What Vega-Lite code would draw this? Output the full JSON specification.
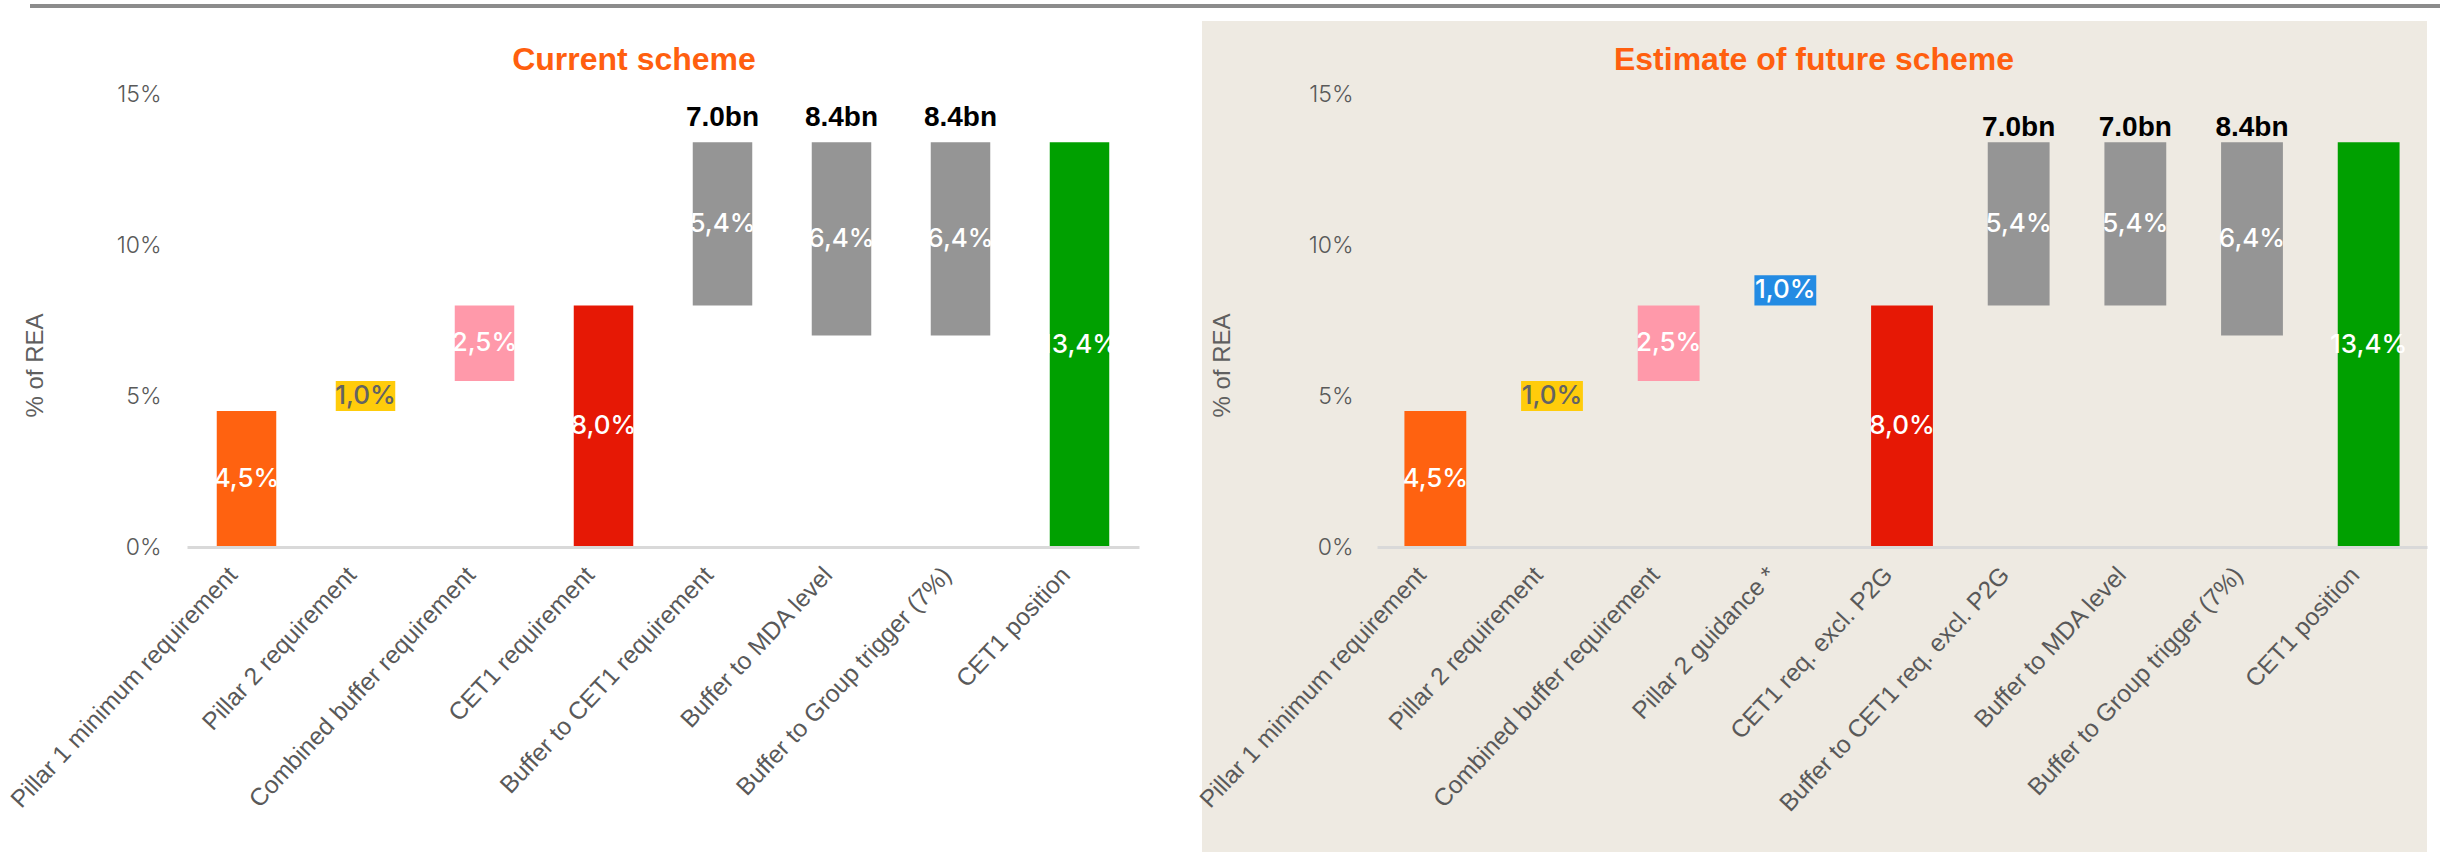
{
  "$schema": "https://vega.github.io/schema/vega-lite/v6.json",
  "padding": 0,
  "autosize": {"type": "pad"},
  "background": "white",
  "spacing": 238,
  "bounds": "flush",
  "config": {
    "locale": {"number": {"decimal": ",", "thousands": ".", "grouping": [3], "currency": ["", " kr"]}},
    "view": {"stroke": null},
    "font": "Liberation Sans",
    "axis": {"grid": false, "ticks": false, "tickSize": 0},
    "axisX": {"labelAngle": -47, "labelFontSize": 24.5, "labelColor": "#595959", "labelFont": "Liberation Sans", "labelLimit": 1000, "labelPadding": 24, "labelOffset": -13, "domainColor": "#D9D9D9", "domainWidth": 3},
    "axisY": {"domain": false, "labelFontSize": 23, "labelColor": "#595959", "labelFont": "Inter", "labelFontWeight": 300, "titleFont": "Liberation Sans", "titleFontSize": 24, "titleFontWeight": "normal", "titleColor": "#5f5f5f", "titleAngle": 270, "titleAlign": "center", "titleBaseline": "middle", "titleY": 271}
  },
  "datasets": {
    "cur": [
      {"cat": "Pillar 1 minimum requirement", "type": "P1", "start": 0, "end": 0.045, "value": 0.045, "bn": null},
      {"cat": "Pillar 2 requirement", "type": "P2", "start": 0.045, "end": 0.055, "value": 0.01, "bn": null},
      {"cat": "Combined buffer requirement", "type": "CBR", "start": 0.055, "end": 0.08, "value": 0.025, "bn": null},
      {"cat": "CET1 requirement", "type": "REQ", "start": 0, "end": 0.08, "value": 0.08, "bn": null},
      {"cat": "Buffer to CET1 requirement", "type": "BUF", "start": 0.08, "end": 0.134, "value": 0.054, "bn": "7.0bn"},
      {"cat": "Buffer to MDA level", "type": "BUF", "start": 0.07, "end": 0.134, "value": 0.064, "bn": "8.4bn"},
      {"cat": "Buffer to Group trigger (7%)", "type": "BUF", "start": 0.07, "end": 0.134, "value": 0.064, "bn": "8.4bn"},
      {"cat": "CET1 position", "type": "POS", "start": 0, "end": 0.134, "value": 0.134, "bn": null}
    ],
    "fut": [
      {"cat": "Pillar 1 minimum requirement", "type": "P1", "start": 0, "end": 0.045, "value": 0.045, "bn": null},
      {"cat": "Pillar 2 requirement", "type": "P2", "start": 0.045, "end": 0.055, "value": 0.01, "bn": null},
      {"cat": "Combined buffer requirement", "type": "CBR", "start": 0.055, "end": 0.08, "value": 0.025, "bn": null},
      {"cat": "Pillar 2 guidance *", "type": "P2G", "start": 0.08, "end": 0.09, "value": 0.01, "bn": null},
      {"cat": "CET1 req. excl. P2G", "type": "REQ", "start": 0, "end": 0.08, "value": 0.08, "bn": null},
      {"cat": "Buffer to CET1 req. excl. P2G", "type": "BUF", "start": 0.08, "end": 0.134, "value": 0.054, "bn": "7.0bn"},
      {"cat": "Buffer to MDA level", "type": "BUF", "start": 0.08, "end": 0.134, "value": 0.054, "bn": "7.0bn"},
      {"cat": "Buffer to Group trigger (7%)", "type": "BUF", "start": 0.07, "end": 0.134, "value": 0.064, "bn": "8.4bn"},
      {"cat": "CET1 position", "type": "POS", "start": 0, "end": 0.134, "value": 0.134, "bn": null}
    ]
  },
  "hconcat": [
    {
      "width": 952,
      "height": 453,
      "title": {"text": "Current scheme", "color": "#FF5F0F", "fontSize": 32, "fontWeight": "bold", "font": "Liberation Sans", "anchor": "middle", "frame": "group", "offset": 0, "baseline": "alphabetic", "dx": -29, "dy": 102},
      "layer": [
        {
          "data": {"values": [{}]},
          "mark": {"type": "rect", "color": "white"},
          "encoding": {"x": {"value": -187}, "x2": {"value": 1015}, "y": {"value": -94}, "y2": {"value": 758}}
        },
        {
          "data": {"values": [{}]},
          "mark": {"type": "rule", "color": "#8C8C8C", "strokeWidth": 4},
          "encoding": {"x": {"value": -157}, "x2": {"value": 2253}, "y": {"value": -88}}
        },
        {
          "data": {"name": "cur"},
          "mark": {"type": "bar"},
          "encoding": {
            "x": {"field": "cat", "type": "nominal", "sort": null, "scale": {"paddingInner": 0.5, "paddingOuter": 0.25},
              "axis": {"title": null, "zindex": 1}},
            "y": {"field": "start", "type": "quantitative", "scale": {"domain": [0, 0.15], "nice": false},
              "axis": {"title": "% of REA", "format": ".0%", "values": [0, 0.05, 0.1, 0.15], "labelPadding": 26, "titleX": -152, "titleFontSize": 24, "titleFont": "Liberation Sans", "titleFontWeight": "normal", "zindex": 1}},
            "y2": {"field": "end"},
            "color": {"field": "type", "type": "nominal", "legend": null,
              "scale": {"domain": ["P1", "P2", "CBR", "P2G", "REQ", "BUF", "POS"], "range": ["#FF6210", "#FFCC0B", "#FF99AA", "#238BE3", "#E61805", "#959595", "#00A000"]}}
          }
        },
        {
          "data": {"name": "cur"},
          "transform": [
            {"fold": ["start", "end"], "as": ["edge", "pos"]},
            {"aggregate": [{"op": "mean", "field": "pos", "as": "mid"}], "groupby": ["cat", "value", "type"]}
          ],
          "mark": {"type": "text", "font": "Inter", "fontSize": 26, "fontWeight": 500, "baseline": "middle", "align": "center"},
          "encoding": {
            "x": {"field": "cat", "type": "nominal", "sort": null, "title": null},
            "y": {"field": "mid", "type": "quantitative", "title": "% of REA"},
            "text": {"field": "value", "type": "quantitative", "format": ".1%"},
            "color": {"condition": {"test": "datum.type === 'P2'", "value": "#636363"}, "value": "white"}
          }
        },
        {
          "data": {"name": "cur"},
          "transform": [{"filter": "datum.bn != null"}],
          "mark": {"type": "text", "font": "Liberation Sans", "fontSize": 28, "fontWeight": "bold", "baseline": "alphabetic", "align": "center", "dy": -16, "color": "black"},
          "encoding": {
            "x": {"field": "cat", "type": "nominal", "sort": null, "title": null},
            "y": {"field": "end", "type": "quantitative", "title": "% of REA"},
            "text": {"field": "bn"}
          }
        }
      ]
    },
    {
      "width": 1050,
      "height": 453,
      "title": {"text": "Estimate of future scheme", "color": "#FF5F0F", "fontSize": 32, "fontWeight": "bold", "font": "Liberation Sans", "anchor": "middle", "frame": "group", "offset": 0, "baseline": "alphabetic", "dx": -88, "dy": 81},
      "layer": [
        {
          "data": {"values": [{}]},
          "mark": {"type": "rect", "color": "#EEEAE2"},
          "encoding": {"x": {"value": -175}, "x2": {"value": 1050}, "y": {"value": -73}, "y2": {"value": 758}}
        },
        {
          "data": {"name": "fut"},
          "mark": {"type": "bar"},
          "encoding": {
            "x": {"field": "cat", "type": "nominal", "sort": null, "scale": {"paddingInner": 0.47, "paddingOuter": 0.235},
              "axis": {"title": null, "zindex": 1}},
            "y": {"field": "start", "type": "quantitative", "scale": {"domain": [0, 0.15], "nice": false},
              "axis": {"title": "% of REA", "format": ".0%", "values": [0, 0.05, 0.1, 0.15], "labelPadding": 24, "titleX": -155, "titleFontSize": 24, "titleFont": "Liberation Sans", "titleFontWeight": "normal", "zindex": 1}},
            "y2": {"field": "end"},
            "color": {"field": "type", "type": "nominal", "legend": null,
              "scale": {"domain": ["P1", "P2", "CBR", "P2G", "REQ", "BUF", "POS"], "range": ["#FF6210", "#FFCC0B", "#FF99AA", "#238BE3", "#E61805", "#959595", "#00A000"]}}
          }
        },
        {
          "data": {"name": "fut"},
          "transform": [
            {"fold": ["start", "end"], "as": ["edge", "pos"]},
            {"aggregate": [{"op": "mean", "field": "pos", "as": "mid"}], "groupby": ["cat", "value", "type"]}
          ],
          "mark": {"type": "text", "font": "Inter", "fontSize": 26, "fontWeight": 500, "baseline": "middle", "align": "center"},
          "encoding": {
            "x": {"field": "cat", "type": "nominal", "sort": null, "title": null},
            "y": {"field": "mid", "type": "quantitative", "title": "% of REA"},
            "text": {"field": "value", "type": "quantitative", "format": ".1%"},
            "color": {"condition": {"test": "datum.type === 'P2'", "value": "#636363"}, "value": "white"}
          }
        },
        {
          "data": {"name": "fut"},
          "transform": [{"filter": "datum.bn != null"}],
          "mark": {"type": "text", "font": "Liberation Sans", "fontSize": 28, "fontWeight": "bold", "baseline": "alphabetic", "align": "center", "dy": -6, "color": "black"},
          "encoding": {
            "x": {"field": "cat", "type": "nominal", "sort": null, "title": null},
            "y": {"field": "end", "type": "quantitative", "title": "% of REA"},
            "text": {"field": "bn"}
          }
        }
      ]
    }
  ]
}
